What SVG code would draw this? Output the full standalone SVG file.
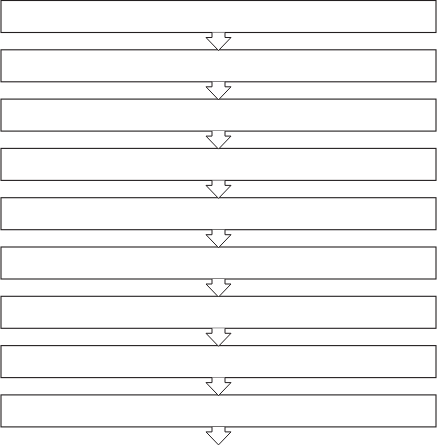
<svg xmlns="http://www.w3.org/2000/svg" width="437" height="446" viewBox="0 0 437 446">
<defs>
<style>
.box{fill:#fff;stroke:#231f20;stroke-width:1.1}
.arr{fill:#fff;stroke:#231f20;stroke-width:1;stroke-linejoin:miter}
</style>
<path id="a" class="arr" d="M212,0 L212,5 L206,5 L218.5,18 L231,5 L225,5 L225,0"/>
</defs>
<rect width="437" height="446" fill="#fff"/>
<g id="n1"><rect class="box" x="1" y="0.5" width="435" height="32"/></g>
<g id="n2"><rect class="box" x="1" y="49.8" width="435" height="32"/></g>
<g id="n3"><rect class="box" x="1" y="99.1" width="435" height="32"/></g>
<g id="n4"><rect class="box" x="1" y="148.4" width="435" height="32"/></g>
<g id="n5"><rect class="box" x="1" y="197.7" width="435" height="32"/></g>
<g id="n6"><rect class="box" x="1" y="247" width="435" height="32"/></g>
<g id="n7"><rect class="box" x="1" y="296.3" width="435" height="32"/></g>
<g id="n8"><rect class="box" x="1" y="345.6" width="435" height="32"/></g>
<g id="n9"><rect class="box" x="1" y="394.9" width="435" height="32"/></g>
<g id="connectors">
<use href="#a" y="32.5"/>
<use href="#a" y="81.8"/>
<use href="#a" y="131.1"/>
<use href="#a" y="180.4"/>
<use href="#a" y="229.7"/>
<use href="#a" y="279"/>
<use href="#a" y="328.3"/>
<use href="#a" y="377.6"/>
<use href="#a" y="426.9"/>
</g>
</svg>
